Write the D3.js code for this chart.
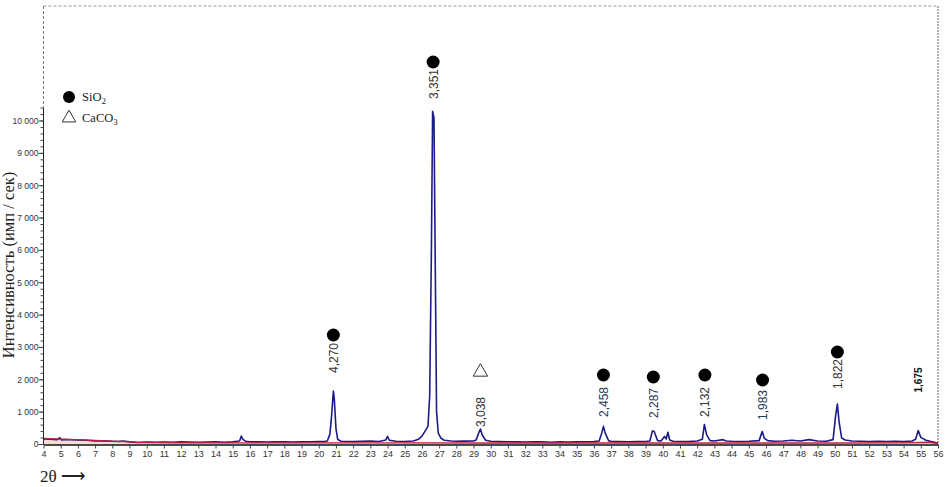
<!DOCTYPE html>
<html><head><meta charset="utf-8">
<script src="https://cdn.jsdelivr.net/npm/d3@7"></script>
<style>body{margin:0;background:#fff}svg{display:block}</style>
</head><body>
<svg id="c" width="949" height="487"></svg>
<script>
// 2θ positions and measured intensity (blue trace)
const twoTheta = [4,4.4,4.8,4.95,5.05,5.2,5.6,6,6.5,7,7.5,8,8.4,8.6,9,9.5,10,10.5,11,11.5,12,12.5,13,13.5,14,14.5,15,15.4,15.5,15.6,15.8,16,16.5,17,17.5,18,18.5,19,19.5,20,20.3,20.5,20.65,20.75,20.85,20.9,21.0,21.1,21.3,21.7,22,22.5,23,23.5,23.9,24.0,24.1,24.5,25,25.5,25.8,26.0,26.2,26.35,26.45,26.55,26.62,26.7,26.78,26.85,26.95,27.1,27.3,27.7,28,28.5,29,29.15,29.3,29.4,29.5,29.7,30,30.5,31,31.5,32,32.5,33,33.5,34,34.5,35,35.5,36,36.3,36.45,36.55,36.65,36.85,37,37.5,38,38.5,39,39.25,39.4,39.5,39.7,39.9,40.1,40.2,40.3,40.4,40.6,41,41.5,42,42.3,42.42,42.55,42.75,43,43.5,43.7,44,44.5,45,45.6,45.78,45.9,46.1,46.5,47,47.5,48,48.5,49,49.5,49.9,50.05,50.15,50.25,50.4,50.6,51,51.5,52,52.5,53,53.5,54,54.5,54.7,54.85,55.0,55.3,55.6,55.8,56];
const intensity = [170,165,150,210,140,150,145,140,130,110,115,100,95,110,80,60,75,70,75,70,80,75,70,75,80,70,80,110,260,150,90,85,80,75,80,80,75,80,85,90,95,110,320,900,1650,1450,500,160,100,95,90,100,110,95,140,250,130,100,95,110,160,260,430,560,1500,6000,10300,10100,5200,1000,350,200,130,110,100,105,110,140,360,480,300,130,100,90,85,80,75,80,85,70,80,75,80,85,90,110,350,560,360,120,95,90,85,90,95,110,420,400,120,110,250,170,380,140,100,95,90,110,160,620,300,120,110,150,110,100,95,100,120,400,200,120,100,110,130,110,150,110,100,150,900,1250,700,200,140,110,100,95,100,95,100,90,110,160,430,220,130,90,70,40];
// background trace (red)
const bgTheta = [4,5,6,7,8,9,9.5,10,12,15,20,25,30,35,40,45,50,54,55,55.5,56];
const bgValue = [185,165,150,125,105,85,65,60,55,50,50,50,48,48,48,48,48,50,60,70,30];

const xTicks = d3.range(4,57,1);
const yMajor = [0,1000,2000,3000,4000,5000,6000,7000,8000,9000,10000];
const yTickLabels = ["0","1 000","2 000","3 000","4 000","5 000","6 000","7 000","8 000","9 000","10 000"];
const yMinor = d3.range(0,10401,200);

// peak annotations
const peakTheta = [20.85,26.65,29.4,36.55,39.45,42.45,45.8,50.15,54.85];
const peakLabel = ["4,270","3,351","3,038","2,458","2,287","2,132","1,983","1,822","1,675"];
const peakPhase = ["SiO2","SiO2","CaCO3","SiO2","SiO2","SiO2","SiO2","SiO2",""];
const markerLevel = [3385,11824,2241,2148,2087,2148,1994,2859,null];
const labelLevel = [2674,11144,1005,1314,1283,1314,1221,2179,1994];
const labelColor = ["#333","#333","#333","#1f3a5a","#1f3a5a","#333","#1f3a5a","#333","#111"];

const svg = d3.select("#c");
const x = d3.scaleLinear().domain([4,56]).range([43.5,938]);
const y = d3.scaleLinear().domain([0,10000]).range([444.5,121]);

// frame (dashed top/right)
svg.append("line").attr("x1",43.5).attr("x2",938).attr("y1",6).attr("y2",6).attr("stroke","#999").attr("stroke-dasharray","3,2");
svg.append("line").attr("x1",938).attr("x2",938).attr("y1",6).attr("y2",444.5).attr("stroke","#999").attr("stroke-width",1.5).attr("stroke-dasharray","2,1");
svg.append("line").attr("x1",43.5).attr("x2",43.5).attr("y1",6).attr("y2",y(10400)).attr("stroke","#777").attr("stroke-dasharray","3,2");

// background fill + lines
svg.append("path").datum(d3.zip(bgTheta,bgValue))
  .attr("d",d3.area().x(d=>x(d[0])).y0(y(0)).y1(d=>y(d[1])))
  .attr("fill","#f6ddd3");
svg.append("path").datum(d3.zip(twoTheta,intensity))
  .attr("d",d3.line().x(d=>x(d[0])).y(d=>y(d[1])))
  .attr("fill","none").attr("stroke","#1c1c86").attr("stroke-width",1.6).attr("stroke-linejoin","round");
svg.append("path").datum(d3.zip(bgTheta,bgValue))
  .attr("d",d3.line().x(d=>x(d[0])).y(d=>y(d[1])))
  .attr("fill","none").attr("stroke","#c02040").attr("stroke-width",1.4);

// axes
const yAxisG = svg.append("g").attr("transform","translate(43.5,0)");
yAxisG.append("line").attr("y1",y(0)).attr("y2",y(10400)).attr("stroke","#222");
yAxisG.selectAll(".mn").data(yMinor).join("line").attr("x1",-3).attr("x2",0).attr("y1",d=>y(d)).attr("y2",d=>y(d)).attr("stroke","#444");
yAxisG.selectAll(".mj").data(yMajor).join("line").attr("x1",-5).attr("x2",0).attr("y1",d=>y(d)).attr("y2",d=>y(d)).attr("stroke","#444");
yAxisG.selectAll("text").data(yMajor).join("text").attr("x",-5).attr("y",d=>y(d)).attr("dy","0.35em")
  .attr("text-anchor","end").attr("font-family","Liberation Sans, Arial, sans-serif").attr("font-size",8.5).attr("fill","#333")
  .text((d,i)=>yTickLabels[i]);

const xAxis = d3.axisBottom(x).tickValues(xTicks).tickFormat(d3.format("d")).tickSizeInner(4).tickSizeOuter(0);
const xg = svg.append("g").attr("transform","translate(0,444.5)").call(xAxis);
xg.select(".domain").attr("stroke","#111").attr("stroke-width",1.4);
xg.selectAll(".tick line").attr("stroke","#444");
xg.selectAll("text").attr("font-family","Liberation Sans, Arial, sans-serif").attr("font-size",9).attr("fill","#333").attr("dy","0.6em");

// axis titles
svg.append("text").attr("transform","translate(14,265) rotate(-90)").attr("text-anchor","middle")
  .attr("font-family","Liberation Serif, Times New Roman, serif").attr("font-size",16.5).attr("fill","#222")
  .text("Интенсивность (имп / сек)");
svg.append("text").attr("x",40).attr("y",482).attr("font-family","Liberation Serif, Times New Roman, serif").attr("font-size",17).attr("fill","#222").text("2θ ⟶");

// markers
const tri = d3.symbol().type(d3.symbolTriangle).size(90);
peakTheta.forEach((t,i)=>{
  if(peakPhase[i]==="SiO2"){
    svg.append("circle").attr("cx",x(t)).attr("cy",y(markerLevel[i])).attr("r",6.5).attr("fill","#000");
  } else if(peakPhase[i]==="CaCO3"){
    svg.append("path").attr("d",tri).attr("transform",`translate(${x(t)},${y(markerLevel[i])})`).attr("fill","none").attr("stroke","#333").attr("stroke-width",1);
  }
  svg.append("text").attr("transform",`translate(${x(t)+(i===8?3.5:4.5)},${y(labelLevel[i])}) rotate(-90)`)
    .attr("text-anchor","middle")
    .attr("font-family","Liberation Sans, Arial, sans-serif")
    .attr("font-size",i===8?10:12).attr("font-weight",i===8?"bold":"normal")
    .attr("fill",labelColor[i]).text(peakLabel[i]);
});

// legend
const lg = svg.append("g").attr("font-family","Liberation Serif, Times New Roman, serif").attr("font-size",12.5).attr("fill","#222");
lg.append("circle").attr("cx",69).attr("cy",97).attr("r",6).attr("fill","#000");
const t1 = lg.append("text").attr("x",82).attr("y",101);
t1.append("tspan").text("SiO");
t1.append("tspan").attr("font-size",9).attr("dy",3).text("2");
lg.append("path").attr("d",d3.symbol().type(d3.symbolTriangle).size(80)).attr("transform","translate(69,118)").attr("fill","none").attr("stroke","#333");
const t2 = lg.append("text").attr("x",82).attr("y",122);
t2.append("tspan").text("CaCO");
t2.append("tspan").attr("font-size",9).attr("dy",3).text("3");
</script>
</body></html>
